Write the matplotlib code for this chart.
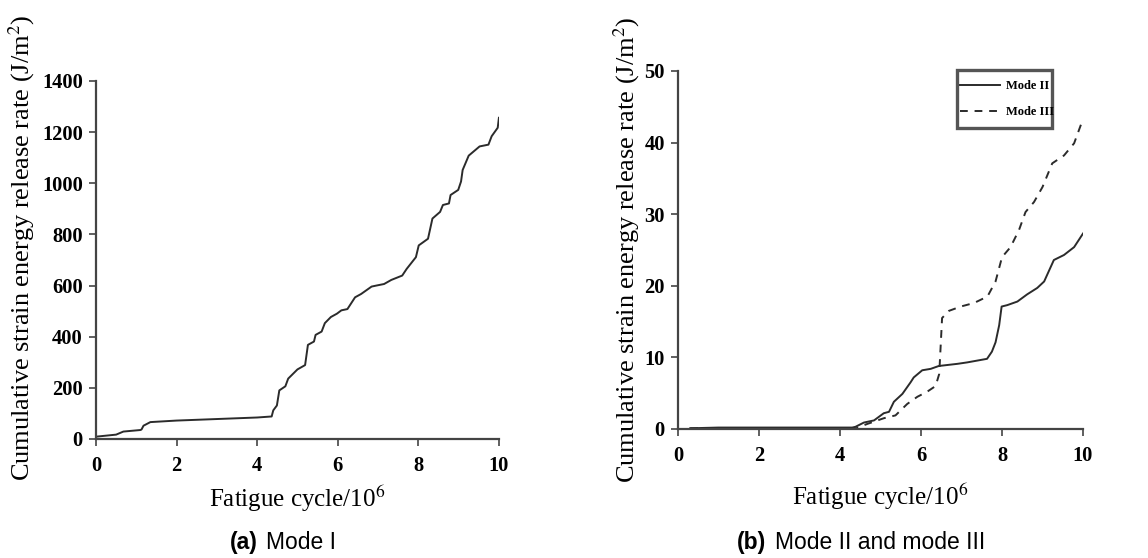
import numpy as np
import matplotlib.pyplot as plt
from matplotlib.patches import Rectangle

plt.rcParams['font.family'] = ['Liberation Serif', 'DejaVu Serif']
plt.rcParams['mathtext.fontset'] = 'stix'

# mode I cumulative energy release rate
cycles_1 = [0, 0.5, 0.56, 0.68, 1.1, 1.13, 1.18, 1.35, 2.0, 3.0, 4.0, 4.36, 4.40, 4.49,
            4.55, 4.70, 4.77, 5.0, 5.19, 5.26, 5.41, 5.45, 5.6, 5.68, 5.83, 5.98, 6.09,
            6.24, 6.43, 6.58, 6.84, 6.96, 7.15, 7.33, 7.6, 7.71, 7.94, 8.01, 8.24, 8.35,
            8.54, 8.61, 8.76, 8.8, 8.99, 9.06, 9.1, 9.25, 9.52, 9.74, 9.82, 9.97, 10.0]
g_mode1 = [9, 17, 21, 29, 35, 37, 52, 66, 72, 78, 84, 88, 112, 131, 190, 206, 236, 272,
           289, 368, 381, 407, 420, 453, 477, 490, 503, 508, 554, 567, 596, 600, 606,
           622, 639, 665, 711, 757, 783, 862, 888, 915, 921, 954, 974, 1007, 1052, 1108,
           1144, 1151, 1184, 1217, 1256]

# mode II
cycles_2 = [0.3, 1.0, 2.0, 3.0, 4.3, 4.38, 4.59, 4.84, 5.08, 5.21, 5.33, 5.54, 5.74, 5.82,
            6.03, 6.24, 6.44, 6.9, 7.14, 7.63, 7.75, 7.84, 7.93, 7.99, 8.13, 8.38, 8.62,
            8.87, 9.04, 9.28, 9.53, 9.78, 10.0]
g_mode2 = [0.1, 0.2, 0.2, 0.2, 0.2, 0.3, 0.9, 1.2, 2.2, 2.4, 3.8, 4.9, 6.5, 7.2, 8.2, 8.4,
           8.8, 9.1, 9.3, 9.8, 10.8, 12.1, 14.5, 17.1, 17.3, 17.8, 18.8, 19.7, 20.6, 23.6,
           24.3, 25.4, 27.3]

# mode III
cycles_3 = [0.3, 1.0, 2.0, 3.0, 4.4, 4.67, 5.08, 5.37, 5.66, 5.91, 6.15, 6.36, 6.45, 6.52,
            6.69, 6.98, 7.31, 7.64, 7.84, 8.0, 8.21, 8.42, 8.58, 8.79, 9.0, 9.24, 9.53,
            9.78, 10.0]
g_mode3 = [0.1, 0.1, 0.1, 0.1, 0.1, 0.7, 1.5, 1.9, 3.5, 4.5, 5.2, 6.0, 7.7, 15.5, 16.5,
           17.1, 17.6, 18.5, 20.6, 24.0, 25.4, 27.8, 30.3, 31.7, 33.8, 37.1, 38.2, 39.9,
           43.3]

line_col = '#2b2b2b'
ylabel = 'Cumulative strain energy release rate (J/m$^2$)'
xlabel = 'Fatigue cycle/10$^6$'

fig = plt.figure(figsize=(11.48, 5.58), dpi=100)
ax1 = fig.add_axes([0.0836, 0.2133, 0.351, 0.6416])
ax2 = fig.add_axes([0.5906, 0.2312, 0.3528, 0.6416])


def style(ax):
    for s in ['top', 'right']:
        ax.spines[s].set_visible(False)
    for s in ['left', 'bottom']:
        ax.spines[s].set_color('#444444')
        ax.spines[s].set_linewidth(1.6)
    ax.tick_params(direction='out', length=5, width=1.2, color='#444444')
    ax.tick_params(axis='y', pad=4.5)
    ax.tick_params(axis='x', pad=7)
    for lab in ax.get_xticklabels() + ax.get_yticklabels():
        lab.set_fontweight('bold')
        lab.set_fontsize(14.8)
    ax.set_xlim(0, 10)
    ax.set_xticks([0, 2, 4, 6, 8, 10])


ax1.plot(cycles_1, g_mode1, color=line_col, lw=1.4)
ax1.set_ylim(0, 1400)
ax1.set_yticks(np.arange(0, 1401, 200))
style(ax1)
ax1.set_ylabel(ylabel, fontsize=19)
ax1.yaxis.set_label_coords(-0.147, 0.535)
ax1.set_xlabel(xlabel, fontsize=18)
ax1.xaxis.set_label_coords(0.5, -0.125)

ax2.plot(cycles_2, g_mode2, color=line_col, lw=1.4, label='Mode II')
ax2.plot(cycles_3, g_mode3, color=line_col, lw=1.4, ls=(0, (4, 3.5)), label='Mode III')
ax2.set_ylim(0, 50)
ax2.set_yticks(np.arange(0, 51, 10))
style(ax2)
ax2.set_ylabel(ylabel, fontsize=19)
ax2.yaxis.set_label_coords(-0.09, 0.50)
ax2.set_xlabel(xlabel, fontsize=18)
ax2.xaxis.set_label_coords(0.5, -0.148)

# legend entries without frame, box drawn separately (taller than wide padding)
leg = ax2.legend(loc='upper left', bbox_to_anchor=(0.697, 0.975), frameon=False,
                 handlelength=3.2, handletextpad=0.45, borderpad=0, labelspacing=1.15,
                 borderaxespad=0,
                 prop={'family': 'Liberation Serif', 'weight': 'bold', 'size': 9})
ax2.add_patch(Rectangle((0.689, 0.841), 0.235, 0.162, transform=ax2.transAxes,
                        fill=False, edgecolor='#555555', lw=2.4, clip_on=False))

# sub-captions
sans = 'Liberation Sans'
fig.text(0.2247, 0.028, '(a)', ha='right', va='center', fontsize=16.5, fontweight='bold', family=sans)
fig.text(0.2317, 0.028, 'Mode I', ha='left', va='center', fontsize=16.5, family=sans)
fig.text(0.667, 0.028, '(b)', ha='right', va='center', fontsize=16.5, fontweight='bold', family=sans)
fig.text(0.675, 0.028, 'Mode II and mode III', ha='left', va='center', fontsize=16.5, family=sans)

fig.savefig('out.png', dpi=100)
